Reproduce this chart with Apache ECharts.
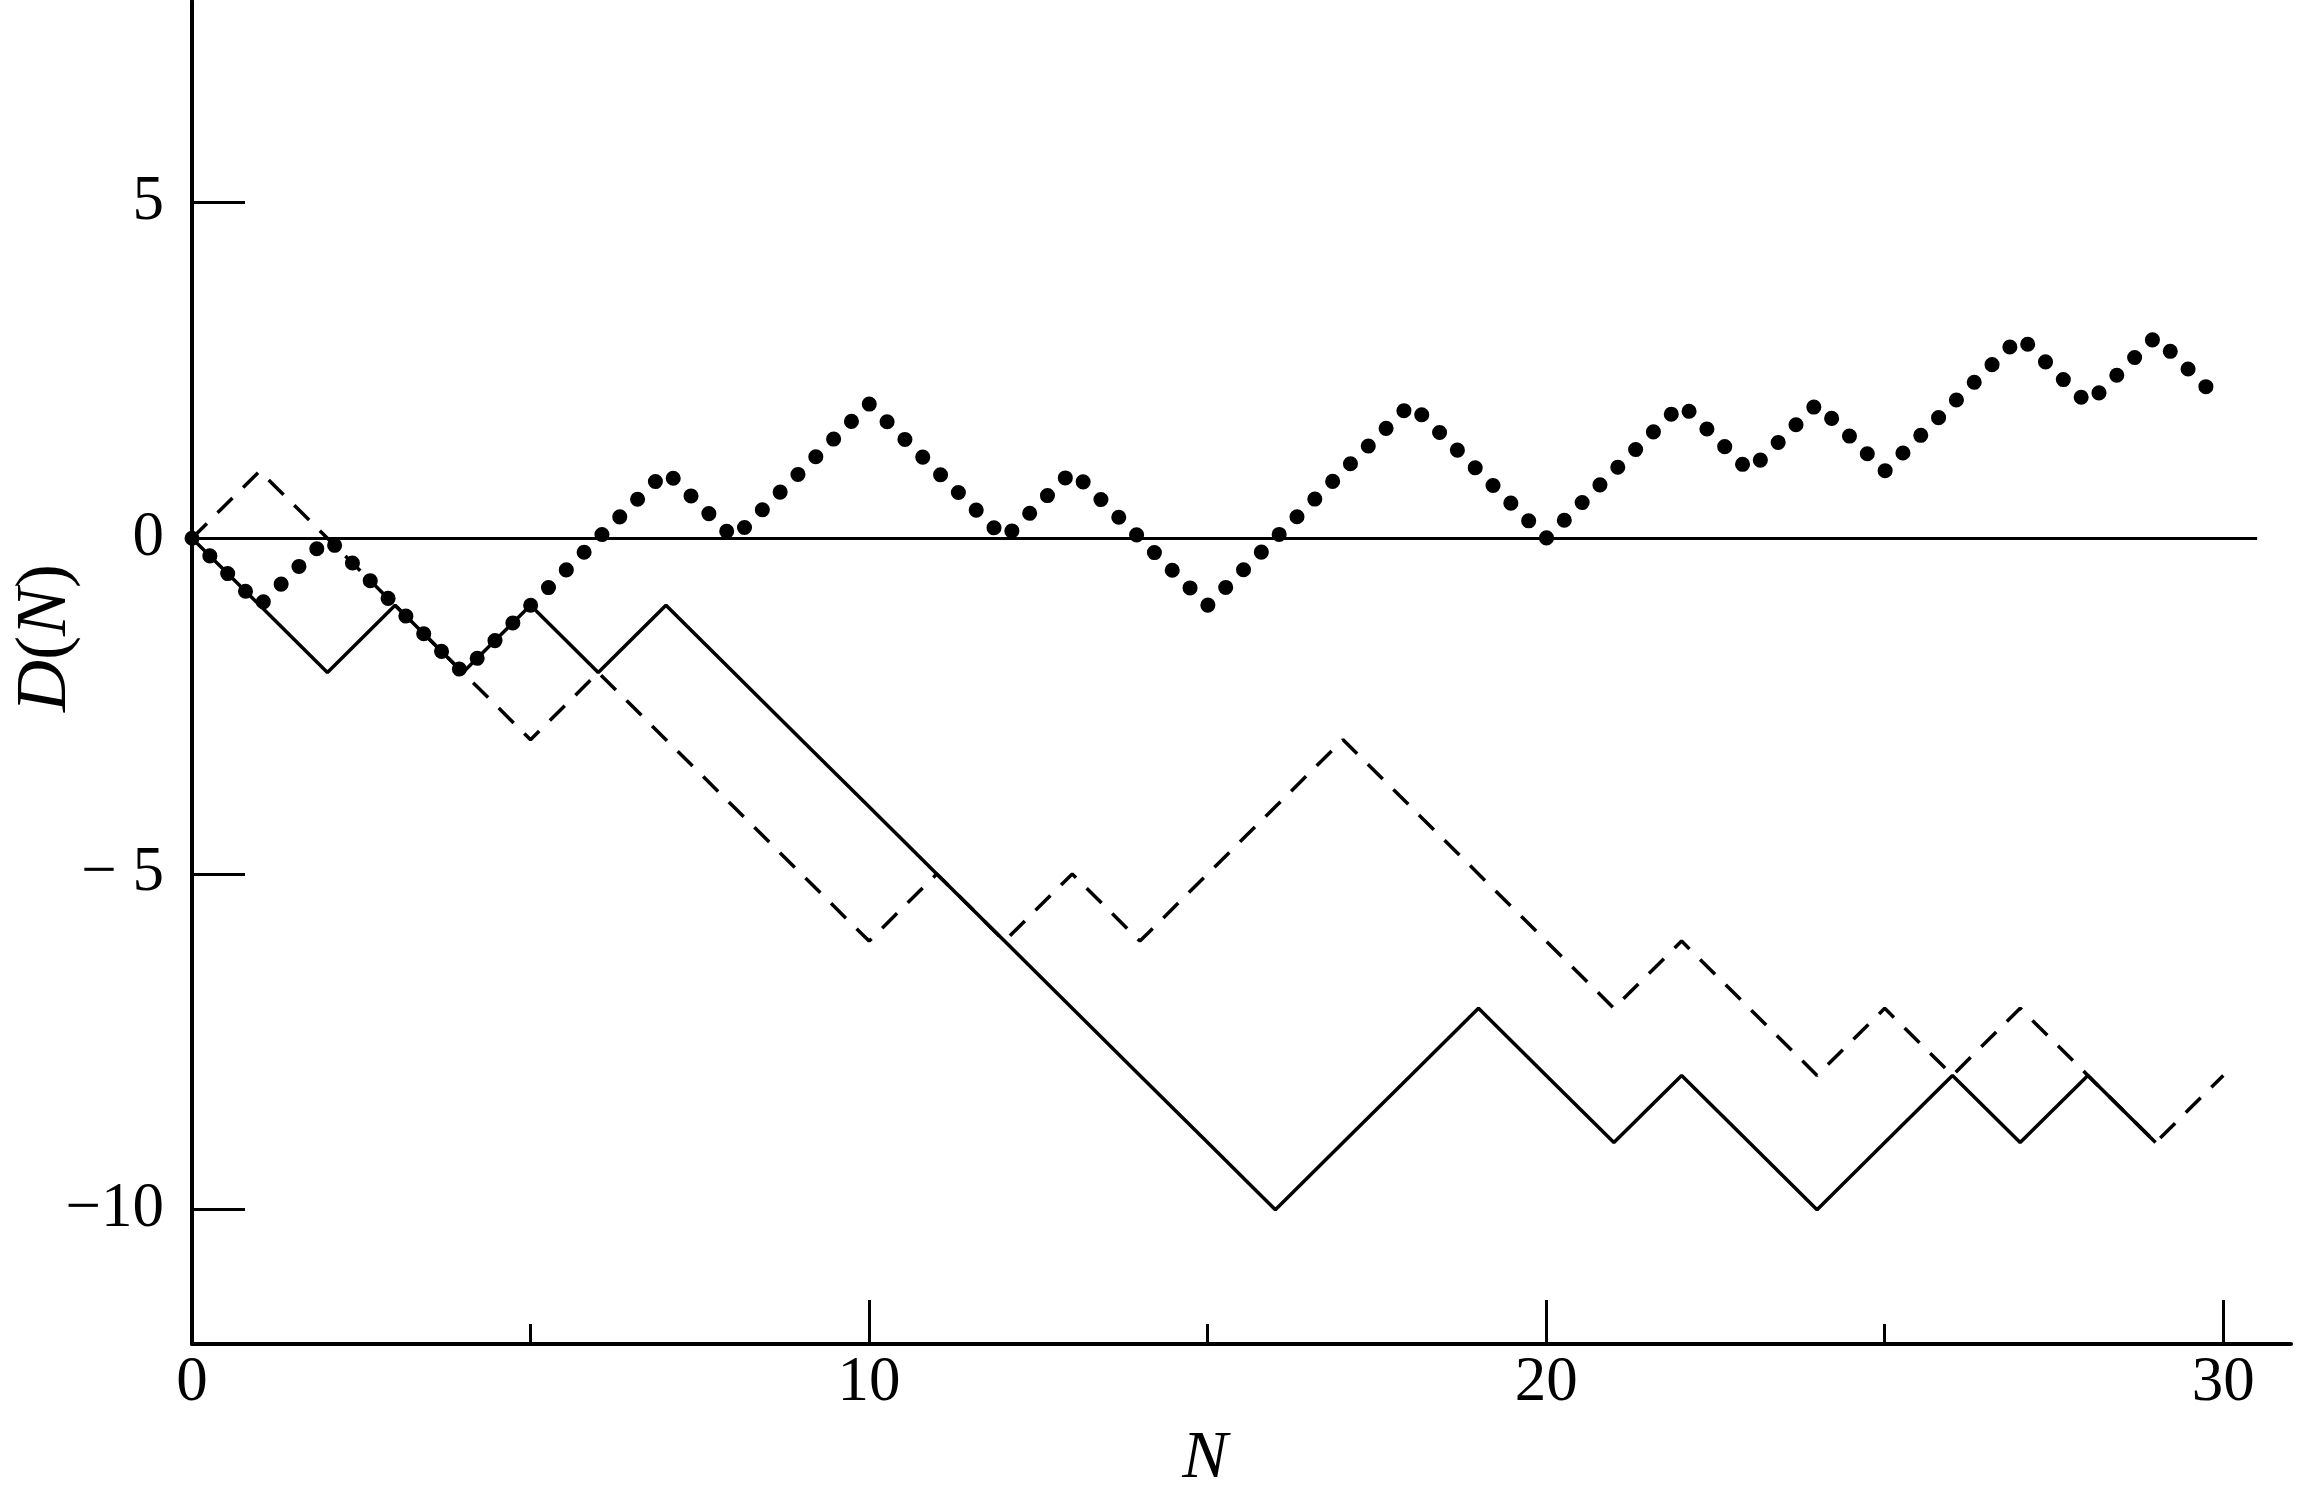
<!DOCTYPE html>
<html>
<head>
<meta charset="utf-8">
<style>
  html, body { margin: 0; padding: 0; background: #fff; }
  #chart { width: 2311px; height: 1494px; }
</style>
<script src="https://cdn.jsdelivr.net/npm/echarts@6/dist/echarts.min.js"></script>
</head>
<body>
<div id="chart"></div>
<script>
// three random walks D(N), one value per step N = 0, 1, 2, ...
const solidWalk = [0, -1, -2, -1, -2, -1, -2, -1, -2, -3, -4, -5, -6, -7, -8, -9, -10, -9, -8, -7, -8, -9, -8, -9, -10, -9, -8, -9, -8, -9];
const dashedWalk = [0, 1, 0, -1, -2, -3, -2, -3, -4, -5, -6, -5, -6, -5, -6, -5, -4, -3, -4, -5, -6, -7, -6, -7, -8, -7, -8, -7, -8, -9, -8];
const dottedWalk = [0, -1, 0, -1, -2, -1, 0, 1, 0, 1, 2, 1, 0, 1, 0, -1, 0, 1, 2, 1, 0, 1, 2, 1, 2, 1, 2, 3, 2, 3, 2];

// axis ticks
const xTicks = [0, 10, 20, 30];
const xMinorTicks = [5, 15, 25];
const yTicks = [5, 0, -5, -10];
const yTickLabels = ['5', '0', '\u2212 5', '\u221210'];
const zeroLineEnd = 30.5;

const serif = '"Liberation Serif", "DejaVu Serif", serif';
const toPoints = arr => arr.map((v, i) => [i, v]);

const chart = echarts.init(document.getElementById('chart'));

const baseX = {
    type: 'value',
    min: 0,
    max: 31,
    position: 'bottom',
    splitLine: { show: false }
};

chart.setOption({
    backgroundColor: '#ffffff',
    animation: false,
    grid: { left: 192, right: 20, top: 1, bottom: 150 },
    xAxis: [
        Object.assign({}, baseX, {
            axisLine: { onZero: false, lineStyle: { color: '#000', width: 4 } },
            axisTick: { inside: true, length: 44, customValues: xTicks, lineStyle: { color: '#000', width: 3 } },
            axisLabel: { customValues: xTicks, color: '#000', fontFamily: serif, fontSize: 63, margin: 8 }
        }),
        Object.assign({}, baseX, {
            axisLine: { show: false, onZero: false },
            axisTick: { inside: true, length: 20, customValues: xMinorTicks, lineStyle: { color: '#000', width: 3 } },
            axisLabel: { show: false }
        })
    ],
    yAxis: {
        type: 'value',
        min: -12,
        max: 8,
        splitLine: { show: false },
        axisLine: { onZero: false, lineStyle: { color: '#000', width: 4 } },
        axisTick: { inside: true, length: 53, customValues: yTicks, lineStyle: { color: '#000', width: 3 } },
        axisLabel: {
            customValues: yTicks,
            color: '#000',
            fontFamily: serif,
            fontSize: 63,
            margin: 28,
            formatter: v => yTickLabels[yTicks.indexOf(v)]
        }
    },
    series: [
        {
            name: 'solid',
            type: 'line',
            symbol: 'none',
            data: toPoints(solidWalk),
            lineStyle: { color: '#000', width: 3.5 },
            markLine: {
                silent: true,
                symbol: 'none',
                label: { show: false },
                lineStyle: { color: '#000', width: 3, type: 'solid' },
                data: [[{ coord: [0, 0] }, { coord: [zeroLineEnd, 0] }]]
            }
        },
        {
            name: 'dashed',
            type: 'line',
            symbol: 'none',
            data: toPoints(dashedWalk),
            lineStyle: { color: '#000', width: 3.5, type: [21, 15] }
        },
        {
            name: 'dotted',
            type: 'line',
            symbol: 'none',
            data: toPoints(dottedWalk),
            lineStyle: { color: '#000', width: 15, type: [0.1, 25], cap: 'round' }
        }
    ],
    graphic: [
        {
            type: 'text',
            x: 46,
            y: 638,
            rotation: Math.PI / 2,
            style: {
                text: '{i|D}({i|N})',
                fontFamily: serif,
                fontSize: 72,
                fill: '#000',
                align: 'center',
                verticalAlign: 'middle',
                rich: { i: { fontStyle: 'italic', fontFamily: serif, fontSize: 72, fill: '#000' } }
            }
        },
        {
            type: 'text',
            x: 1205,
            y: 1459,
            style: {
                text: 'N',
                fontFamily: serif,
                fontStyle: 'italic',
                fontSize: 68,
                fill: '#000',
                align: 'center',
                verticalAlign: 'middle'
            }
        }
    ]
});
</script>
</body>
</html>
